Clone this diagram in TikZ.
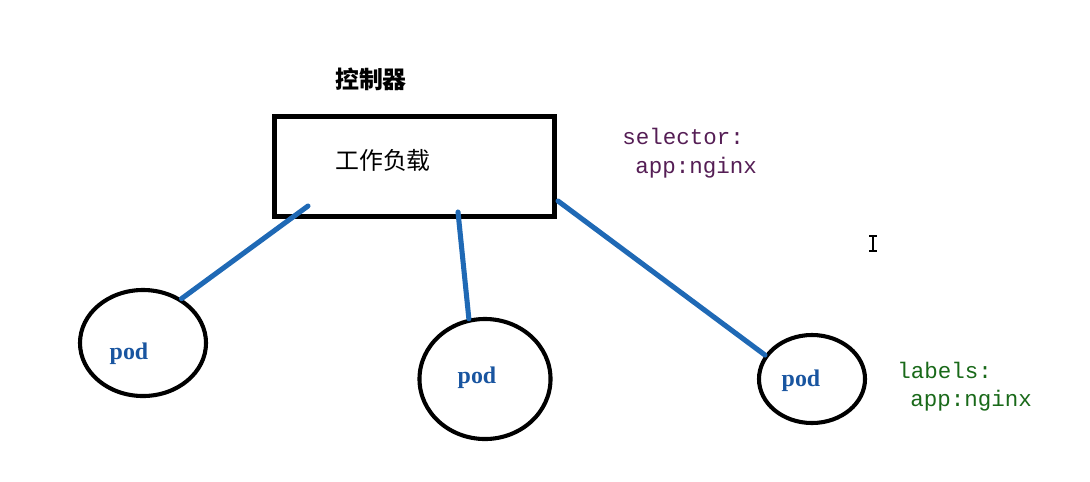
\documentclass[tikz,border=0pt]{standalone}
\usepackage{fontspec}
\usetikzlibrary{shapes.geometric}
\newfontfamily\cjk{Noto Sans CJK SC}
\newfontfamily\monofont{Liberation Mono}
\newfontfamily\podfont{Liberation Serif}
\definecolor{linkblue}{RGB}{31,105,181}
\definecolor{podblue}{RGB}{25,85,160}
\definecolor{selpurple}{RGB}{85,30,85}
\definecolor{labgreen}{RGB}{25,105,25}
\tikzset{
  pod/.style={draw=black, line width=2.9pt, ellipse, inner sep=0pt},
  podlabel/.style={inner sep=0pt, font=\podfont\fontsize{17}{20}\selectfont\bfseries, text=podblue},
  link/.style={draw=linkblue, line width=3.6pt, line cap=round},
  yamltext/.style={anchor=west, inner sep=0pt, font=\monofont\fontsize{16}{19}\selectfont},
}
\begin{document}
\begin{tikzpicture}[x=0.025cm, y=-0.025cm]
  \useasboundingbox (0,0) rectangle (1090,481);

  % controller box
  \node[font=\cjk\bfseries\fontsize{17}{20}\selectfont] (ctrl) at (371,79) {控制器};
  \node[draw, line width=3.5pt, minimum width=7cm, minimum height=2.5cm, inner sep=0pt] (box) at (414.5,166.5) {};
  \node[font=\cjk\fontsize{17}{20}\selectfont] (load) at (383,160) {工作负载};

  % pods
  \node[pod, minimum width=3.15cm, minimum height=2.65cm] (pod1) at (143,343) {};
  \node[pod, minimum width=3.275cm, minimum height=3.0cm] (pod2) at (485,379) {};
  \node[pod, minimum width=2.65cm, minimum height=2.2cm] (pod3) at (812,379) {};
  \node[podlabel] (pod1txt) at (129,354) {pod};
  \node[podlabel] (pod2txt) at (477,378) {pod};
  \node[podlabel] (pod3txt) at (801,381) {pod};

  % links from box to pods
  \coordinate (c1) at (308,206);
  \coordinate (c2) at (458,212);
  \coordinate (c3) at (558,201);
  \draw[link] (c1) -- (pod1.49);
  \draw[link] (c2) -- (pod2.105);
  \draw[link] (c3) -- (pod3.153);

  % selector and labels
  \node[yamltext, text=selpurple] (sel) at (622,136) {selector:};
  \node[yamltext, text=selpurple] (selapp) at (635,168) {app:nginx};
  \node[yamltext, text=labgreen] (lab) at (897,370) {labels:};
  \node[yamltext, text=labgreen] (labapp) at (910,401) {app:nginx};

  % cursor
  \draw[line width=0.9pt] (873,236) -- (873,251);
  \draw[line width=0.9pt] (869,236) -- (877,236);
  \draw[line width=0.9pt] (869,251) -- (877,251);
\end{tikzpicture}
\end{document}
